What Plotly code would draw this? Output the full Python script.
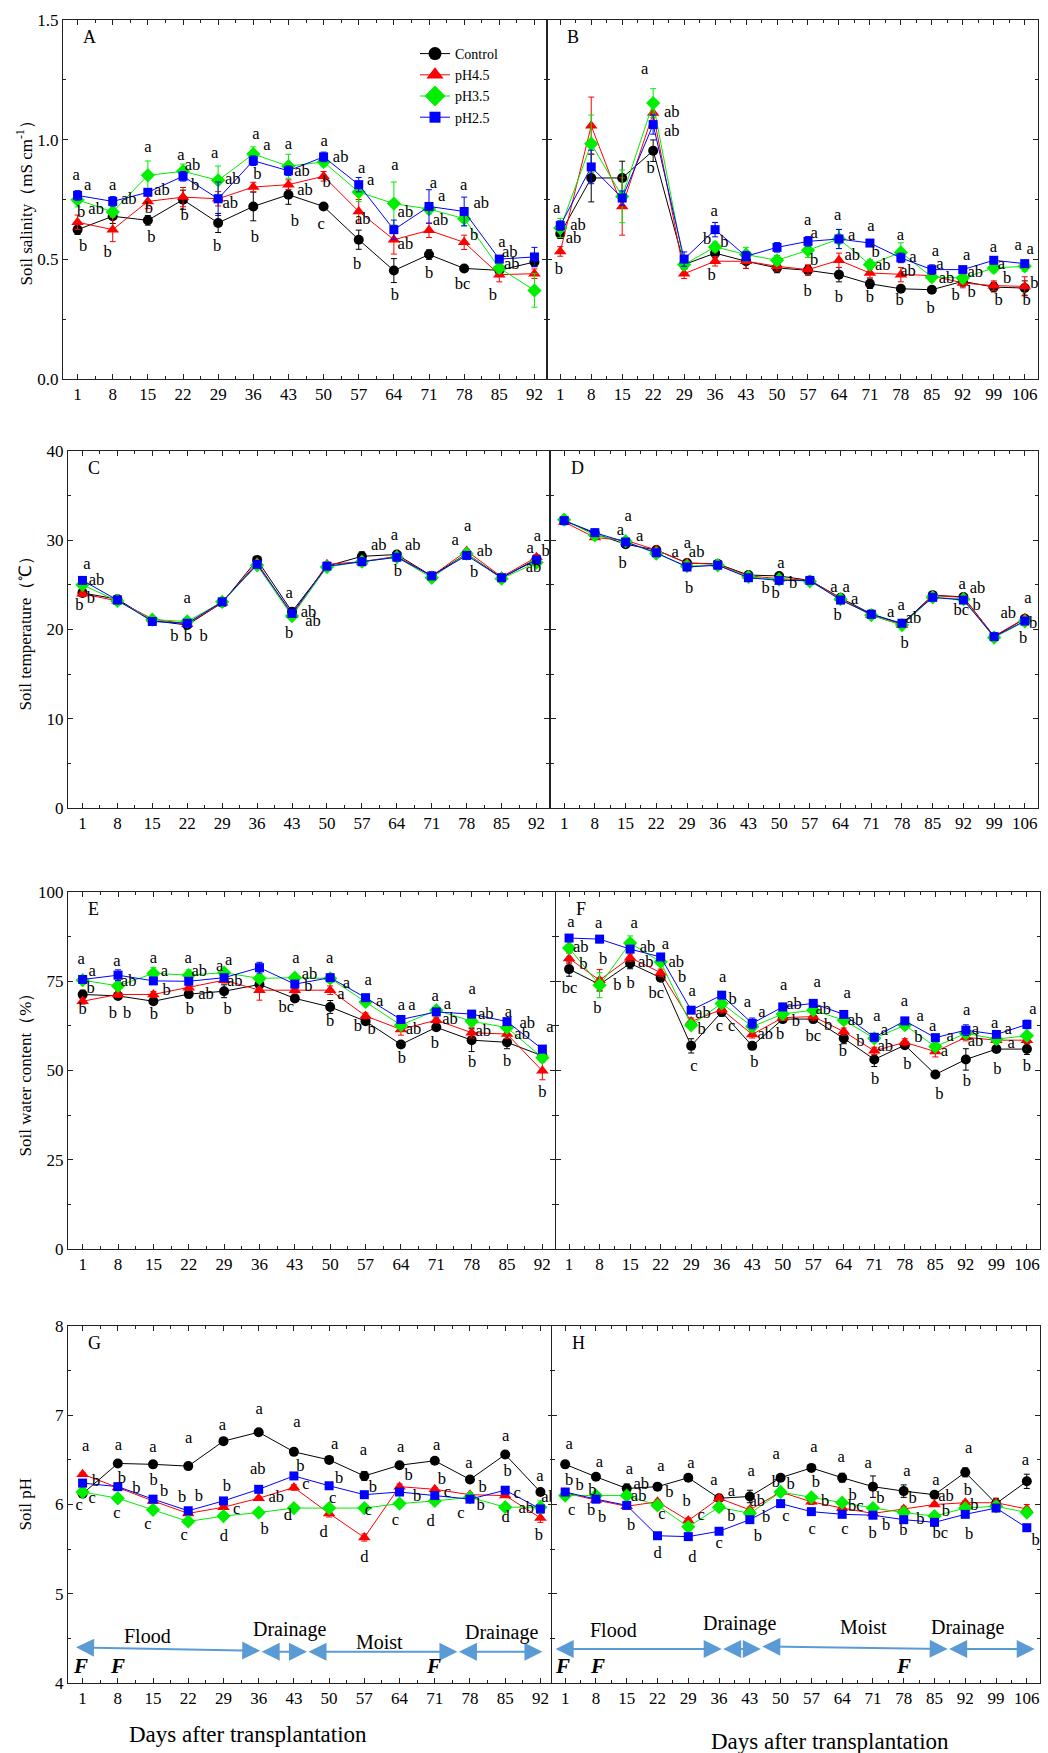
import plotly.graph_objects as go

W, H = 1048, 1753
FONT = "Liberation Serif"

days_L = [1, 8, 15, 22, 29, 36, 43, 50, 57, 64, 71, 78, 85, 92]
days_R = [1, 8, 15, 22, 29, 36, 43, 50, 57, 64, 71, 78, 85, 92, 99, 106]
series_names = ["Control", "pH4.5", "pH3.5", "pH2.5"]

# ---------------- Panel A: soil salinity (mS cm-1), period 1 ----------------
A_ctrl = [0.624, 0.68, 0.663, 0.749, 0.652, 0.721, 0.77, 0.721, 0.582, 0.453, 0.52, 0.462, 0.454, 0.489]
A_ph45 = [0.655, 0.624, 0.742, 0.76, 0.753, 0.802, 0.812, 0.847, 0.70, 0.582, 0.621, 0.571, 0.436, 0.44]
A_ph35 = [0.749, 0.698, 0.851, 0.868, 0.83, 0.94, 0.889, 0.907, 0.781, 0.733, 0.71, 0.67, 0.464, 0.37]
A_ph25 = [0.767, 0.742, 0.78, 0.847, 0.753, 0.912, 0.87, 0.928, 0.812, 0.624, 0.721, 0.70, 0.501, 0.51]
A_err_ctrl = [0.02, 0.03, 0.02, 0.04, 0.04, 0.06, 0.04, 0.01, 0.04, 0.05, 0.02, 0.01, 0.01, 0.02]
A_err_ph45 = [0.03, 0.05, 0.03, 0.04, 0.03, 0.02, 0.02, 0.02, 0.05, 0.06, 0.03, 0.03, 0.03, 0.02]
A_err_ph35 = [0.03, 0.02, 0.06, 0.03, 0.06, 0.03, 0.05, 0.02, 0.04, 0.09, 0.02, 0.03, 0.02, 0.07]
A_err_ph25 = [0.02, 0.02, 0.01, 0.02, 0.07, 0.02, 0.02, 0.02, 0.03, 0.04, 0.07, 0.06, 0.01, 0.04]
A_letters = [
    (0.7, 0.847, "a"), (3, 0.805, "a"), (1.7, 0.694, "b"), (4.7, 0.705, "ab"), (2.1, 0.554, "b"),
    (8, 0.805, "a"), (11.2, 0.749, "ab"), (7, 0.526, "b"),
    (15, 0.965, "a"), (17.8, 0.784, "ab"), (15.2, 0.71, "b"), (15.7, 0.589, "b"),
    (21.6, 0.933, "a"), (23.9, 0.889, "ab"), (24.4, 0.805, "b"), (22.3, 0.682, "b"),
    (28.3, 0.941, "a"), (31.9, 0.83, "ab"), (31.4, 0.733, "ab"), (28.8, 0.552, "b"),
    (36.5, 1.021, "a"), (38.7, 0.972, "a"), (36.8, 0.854, "b"), (36.3, 0.589, "b"),
    (43, 0.979, "a"), (45.7, 0.865, "ab"), (46.3, 0.784, "ab"), (44.3, 0.656, "b"),
    (50.1, 0.99, "a"), (53.4, 0.923, "ab"), (50.6, 0.819, "b"), (49.5, 0.645, "c"),
    (57.6, 0.879, "a"), (59.4, 0.829, "a"), (57.8, 0.666, "ab"), (56.7, 0.475, "b"),
    (64.2, 0.889, "a"), (66.3, 0.694, "ab"), (66.3, 0.559, "ab"), (64.2, 0.348, "b"),
    (71.9, 0.815, "a"), (73.5, 0.763, "a"), (73.3, 0.659, "ab"), (71, 0.439, "b"),
    (77.9, 0.805, "a"), (81.4, 0.733, "ab"), (80, 0.6, "b"), (77.7, 0.394, "bc"),
    (85.5, 0.568, "a"), (87.1, 0.526, "ab"), (87.5, 0.475, "ab"), (83.7, 0.348, "b"),
]

# ---------------- Panel B: soil salinity, period 2 ----------------
B_ctrl = [0.607, 0.84, 0.84, 0.954, 0.478, 0.526, 0.492, 0.464, 0.454, 0.436, 0.398, 0.377, 0.373, 0.408, 0.384, 0.38]
B_ph45 = [0.533, 1.058, 0.721, 1.111, 0.44, 0.492, 0.492, 0.471, 0.457, 0.496, 0.443, 0.436, 0.432, 0.401, 0.39, 0.387]
B_ph35 = [0.631, 0.983, 0.763, 1.153, 0.478, 0.552, 0.52, 0.496, 0.538, 0.585, 0.478, 0.529, 0.426, 0.422, 0.464, 0.471]
B_ph25 = [0.641, 0.886, 0.756, 1.063, 0.501, 0.624, 0.513, 0.55, 0.575, 0.585, 0.568, 0.506, 0.457, 0.457, 0.496, 0.482]
B_err_ctrl = [0.02, 0.10, 0.07, 0.045, 0.02, 0.02, 0.03, 0.02, 0.02, 0.03, 0.02, 0.01, 0.01, 0.02, 0.02, 0.03]
B_err_ph45 = [0.02, 0.12, 0.12, 0.05, 0.02, 0.02, 0.03, 0.02, 0.02, 0.03, 0.02, 0.03, 0.02, 0.02, 0.02, 0.04]
B_err_ph35 = [0.04, 0.12, 0.11, 0.06, 0.02, 0.02, 0.03, 0.02, 0.03, 0.04, 0.02, 0.04, 0.02, 0.02, 0.02, 0.02]
B_err_ph25 = [0.02, 0.07, 0.03, 0.04, 0.03, 0.03, 0.02, 0.02, 0.02, 0.04, 0.01, 0.02, 0.02, 0.01, 0.01, 0.01]
B_letters = [
    (0.2, 0.712, "a"), (5, 0.638, "ab"), (4, 0.585, "ab"), (0.7, 0.454, "b"),
    (20.1, 1.292, "a"), (26.2, 1.111, "ab"), (26.2, 1.032, "ab"), (21.4, 0.879, "b"),
    (35.8, 0.70, "a"), (34.2, 0.582, "b"), (38.1, 0.568, "b"), (35.2, 0.429, "b"),
    (56.9, 0.659, "a"), (58.4, 0.607, "a"), (58.4, 0.492, "b"), (56.9, 0.364, "b"),
    (63.7, 0.68, "a"), (66.9, 0.60, "a"), (67, 0.513, "ab"), (64, 0.341, "b"),
    (71.2, 0.634, "a"), (72.3, 0.526, "b"), (73.9, 0.474, "ab"), (71, 0.341, "b"),
    (77.9, 0.60, "a"), (80.7, 0.508, "a"), (79.6, 0.447, "ab"), (77.7, 0.327, "b"),
    (85.8, 0.533, "a"), (86.8, 0.475, "a"), (88.3, 0.419, "ab"), (84.7, 0.294, "b"),
    (92.9, 0.515, "a"), (94.8, 0.443, "ab"), (94, 0.359, "b"), (90.4, 0.348, "b"),
    (98.9, 0.547, "a"), (100.7, 0.475, "a"), (102, 0.419, "b"), (100.1, 0.327, "b"),
    (104.5, 0.557, "a"), (107.2, 0.54, "a"), (108.2, 0.397, "b"), (106.4, 0.327, "b"),
]

# ---------------- Panel C: soil temperature, period 1 ----------------
C_ctrl = [24.1, 23.4, 21.0, 20.5, 23.0, 27.8, 22.0, 27.1, 28.2, 28.4, 26.0, 28.5, 25.8, 27.9]
C_ph45 = [24.0, 23.2, 21.2, 20.6, 23.0, 27.5, 21.6, 27.3, 27.6, 28.2, 26.0, 28.8, 25.9, 28.1]
C_ph35 = [25.0, 23.2, 21.1, 20.9, 23.1, 27.2, 21.5, 27.0, 27.6, 28.1, 25.8, 28.5, 25.7, 27.5]
C_ph25 = [25.5, 23.3, 20.9, 20.7, 23.1, 27.3, 21.8, 27.1, 27.6, 28.1, 26.0, 28.3, 25.8, 27.8]
C_err_ctrl = [0.3, 0.2, 0.2, 0.2, 0.2, 0.2, 0.2, 0.2, 0.5, 0.2, 0.2, 0.2, 0.2, 0.2]
C_err_ph45 = [0.3, 0.2, 0.2, 0.2, 0.2, 0.2, 0.2, 0.2, 0.2, 0.2, 0.2, 0.2, 0.2, 0.3]
C_err_ph35 = [0.3, 0.2, 0.2, 0.2, 0.2, 0.2, 0.2, 0.2, 0.2, 0.2, 0.2, 0.2, 0.2, 0.3]
C_err_ph25 = [0.3, 0.2, 0.2, 0.2, 0.2, 0.2, 0.2, 0.2, 0.2, 0.2, 0.2, 0.2, 0.2, 0.2]
C_letters = [
    (1.9, 27.2, "a"), (3.8, 25.4, "ab"), (0.4, 22.6, "b"), (2.7, 23.4, "b"),
    (22, 23.4, "a"), (19.4, 19.2, "b"), (22.1, 19.2, "b"), (25.3, 19.2, "b"),
    (42.4, 24.0, "a"), (46.3, 21.9, "ab"), (47.2, 20.8, "ab"), (42.4, 19.5, "b"),
    (60.4, 29.4, "ab"), (63.5, 30.5, "a"), (67.2, 29.4, "ab"), (64.2, 26.5, "b"),
    (78.2, 31.5, "a"), (75.7, 29.9, "a"), (81.6, 28.7, "ab"), (79.5, 26.4, "b"),
    (92.2, 30.4, "a"), (90.7, 29.0, "a"), (93.8, 28.7, "b"), (91.4, 26.9, "ab"),
]

# ---------------- Panel D: soil temperature, period 2 ----------------
D_ctrl = [32.2, 30.75, 29.55, 28.9, 27.45, 27.35, 26.1, 26.0, 25.5, 23.55, 21.75, 20.6, 23.85, 23.65, 19.2, 21.2]
D_ph45 = [32.05, 30.3, 30.0, 28.9, 27.45, 27.3, 26.0, 25.7, 25.5, 23.5, 21.6, 20.5, 23.8, 23.6, 19.25, 21.25]
D_ph35 = [32.3, 30.55, 29.9, 28.5, 27.1, 27.2, 25.9, 25.6, 25.4, 23.4, 21.6, 20.5, 23.6, 23.4, 19.1, 20.9]
D_ph25 = [32.2, 30.85, 29.8, 28.6, 27.0, 27.2, 25.8, 25.5, 25.5, 23.3, 21.7, 20.7, 23.6, 23.3, 19.2, 20.95]
D_err = [0.2] * 16
D_letters = [
    (15.6, 32.6, "a"), (13.8, 31.0, "a"), (18.2, 30.4, "a"), (14.3, 27.4, "b"),
    (26.3, 28.6, "a"), (29.1, 29.55, "a"), (31.2, 28.6, "ab"), (29.5, 24.6, "b"),
    (50.4, 27.3, "a"), (46.9, 24.6, "b"), (49.2, 24.0, "b"), (53.2, 25.15, "b"),
    (62.5, 24.7, "a"), (65.3, 24.7, "a"), (67.2, 23.3, "a"), (63.3, 21.5, "b"),
    (75.4, 21.9, "a"), (77.8, 22.6, "a"), (80.6, 21.2, "ab"), (78.6, 18.4, "b"),
    (91.7, 25.0, "a"), (95.2, 24.5, "ab"), (95, 22.65, "b"), (91.5, 22.1, "bc"),
    (102.2, 21.8, "ab"), (106.7, 23.4, "a"), (107.9, 20.6, "b"), (105.6, 18.9, "b"),
]

# ---------------- Panel E: soil water content (%), period 1 ----------------
E_ctrl = [71.3, 70.9, 69.4, 71.4, 72.2, 74.1, 70.2, 67.8, 63.8, 57.3, 62.1, 58.5, 57.9, 54.1]
E_ph45 = [69.4, 71.3, 71.3, 73.2, 75.3, 72.5, 72.5, 72.5, 65.3, 61.5, 64.1, 60.6, 60.2, 49.9]
E_ph35 = [75.3, 73.7, 77.2, 76.7, 77.4, 75.8, 76.0, 75.8, 69.2, 62.7, 66.9, 63.8, 62.0, 53.6]
E_ph25 = [75.5, 76.7, 75.1, 75.0, 76.0, 78.8, 74.2, 76.0, 70.4, 64.3, 66.4, 65.8, 63.7, 56.0]
E_err_ctrl = [1.2, 1.0, 0.8, 1.0, 1.8, 1.0, 0.6, 1.8, 0.8, 0.6, 0.6, 3.2, 1.8, 0.8]
E_err_ph45 = [0.8, 0.8, 0.8, 0.8, 0.8, 2.8, 0.8, 1.2, 0.8, 1.6, 0.8, 1.5, 1.2, 2.5]
E_err_ph35 = [0.8, 1.2, 1.6, 1.5, 0.8, 1.0, 0.8, 1.2, 0.8, 0.8, 0.6, 1.2, 0.8, 1.0]
E_err_ph25 = [0.6, 1.5, 0.6, 0.6, 0.6, 1.5, 0.6, 0.6, 0.8, 1.0, 0.8, 0.8, 0.6, 1.0]
E_letters = [
    (0.7, 81.1, "a"), (2.9, 77.6, "a"), (2.6, 73.0, "b"), (1, 66.9, "b"),
    (7.8, 80.4, "a"), (10.1, 74.7, "ab"), (7, 66.0, "b"), (9.8, 66.0, "b"),
    (15, 81.4, "a"), (17.2, 77.6, "a"), (17.6, 72.2, "b"), (15.1, 65.7, "b"),
    (21.9, 81.4, "a"), (24.1, 77.6, "ab"), (25.4, 71.3, "ab"), (22.2, 66.9, "b"),
    (28.1, 79.0, "a"), (29.9, 80.6, "a"), (31.1, 74.7, "ab"), (29.7, 66.9, "b"),
    (43.2, 81.2, "a"), (45.9, 76.9, "ab"), (45.7, 73.4, "b"), (41.3, 67.6, "bc"),
    (49.9, 81.4, "a"), (53.2, 74.4, "a"), (52.1, 71.1, "a"), (50, 63.7, "b"),
    (57.5, 75.0, "a"), (59.8, 69.2, "a"), (55.5, 62.3, "b"), (58.2, 61.3, "b"),
    (64.1, 68.0, "a"), (66.2, 68.0, "a"), (66.5, 61.3, "ab"), (64.2, 53.2, "b"),
    (70.8, 70.6, "a"), (73.2, 68.3, "a"), (73.7, 64.3, "ab"), (70.7, 57.4, "b"),
    (78.1, 72.7, "a"), (80.8, 65.7, "ab"), (80.3, 60.7, "ab"), (78.1, 52.2, "b"),
    (85.3, 66.2, "a"), (89, 63.2, "ab"), (88, 59.9, "ab"), (85, 52.5, "b"),
    (93.5, 62.0, "a"), (95.1, 59.2, "ab"), (95.1, 55.0, "ab"), (92, 43.8, "b"),
]

# ---------------- Panel F: soil water content, period 2 ----------------
F_ctrl = [78.4, 74.1, 80.0, 76.0, 56.9, 66.4, 56.9, 64.4, 64.4, 59.0, 53.1, 57.1, 48.9, 53.1, 56.0, 56.0]
F_ph45 = [81.4, 75.3, 81.6, 77.4, 63.7, 67.1, 60.1, 64.8, 65.1, 60.9, 55.5, 57.9, 55.3, 59.3, 58.5, 58.5]
F_ph35 = [84.3, 73.9, 85.7, 80.4, 62.7, 68.8, 62.3, 65.8, 66.9, 64.1, 59.0, 62.7, 56.7, 60.4, 58.8, 59.7]
F_ph25 = [87.1, 86.8, 84.0, 81.8, 66.9, 71.1, 63.2, 67.8, 68.8, 65.7, 59.3, 63.9, 59.2, 61.3, 60.1, 62.9]
F_err_ctrl = [2.0, 1.8, 1.5, 0.8, 2.0, 1.2, 0.8, 0.8, 1.0, 1.5, 2.0, 0.8, 0.6, 3.0, 0.8, 1.5]
F_err_ph45 = [1.5, 3.0, 1.0, 1.0, 1.0, 1.0, 1.0, 0.8, 1.0, 1.0, 1.0, 1.0, 1.5, 1.0, 0.8, 1.0]
F_err_ph35 = [1.0, 3.5, 2.0, 1.0, 1.0, 1.0, 1.5, 0.8, 1.0, 1.0, 1.0, 1.0, 1.0, 1.0, 0.8, 1.0]
F_err_ph25 = [0.5, 1.0, 0.5, 0.5, 0.5, 0.5, 1.5, 1.0, 0.8, 0.8, 1.0, 0.8, 0.5, 1.5, 0.5, 1.2]
F_letters = [
    (1.4, 91.3, "a"), (3.7, 84.4, "ab"), (4.3, 79.5, "b"), (1.1, 73.0, "bc"),
    (7.8, 91.1, "a"), (8.8, 80.9, "b"), (12.1, 73.6, "b"), (7.5, 67.4, "b"),
    (15.9, 91.1, "a"), (19, 84.4, "ab"), (18.6, 80.1, "ab"), (15.1, 74.4, "b"),
    (23.1, 85.1, "a"), (25.6, 80.2, "ab"), (26.9, 76.0, "b"), (21, 71.6, "bc"),
    (29.2, 72.0, "a"), (31.7, 66.0, "ab"), (31.4, 61.5, "b"), (29.6, 50.9, "c"),
    (36.2, 76.0, "a"), (38.5, 69.9, "b"), (35.5, 62.3, "c"), (38.3, 62.3, "c"),
    (41.9, 69.0, "a"), (45.2, 66.2, "a"), (46, 59.9, "ab"), (43.5, 52.0, "b"),
    (50.2, 73.7, "a"), (52.6, 68.3, "ab"), (53, 63.7, "b"), (49.4, 59.9, "b"),
    (57.9, 74.6, "a"), (59.3, 67.1, "ab"), (60.4, 62.4, "b"), (57, 59.5, "bc"),
    (64.8, 71.6, "a"), (66.7, 63.8, "ab"), (67.8, 57.9, "b"), (63.8, 55.3, "b"),
    (71.6, 64.9, "a"), (73.3, 61.1, "a"), (73.5, 56.7, "ab"), (71.2, 47.5, "b"),
    (77.9, 69.2, "a"), (81.5, 65.1, "a"), (81.1, 59.2, "b"), (78.6, 51.5, "b"),
    (84.4, 62.3, "a"), (88.4, 59.5, "a"), (87.1, 55.3, "a"), (85.9, 43.1, "b"),
    (92.2, 66.7, "a"), (94.2, 61.3, "a"), (94.2, 58.1, "ab"), (92.2, 46.9, "b"),
    (98.6, 63.0, "a"), (101.7, 61.3, "a"), (102.4, 57.4, "a"), (99.2, 50.1, "b"),
    (107.4, 67.1, "a"), (109.2, 62.9, "ab"), (109.2, 59.0, "ab"), (106, 50.9, "b"),
]

# ---------------- Panel G: soil pH, period 1 ----------------
G_ctrl = [6.12, 6.46, 6.45, 6.43, 6.71, 6.81, 6.59, 6.50, 6.32, 6.44, 6.49, 6.28, 6.56, 6.14]
G_ph45 = [6.34, 6.19, 6.04, 5.90, 5.97, 6.07, 6.19, 5.90, 5.63, 6.20, 6.17, 6.11, 6.10, 5.85]
G_ph35 = [6.14, 6.07, 5.94, 5.81, 5.87, 5.91, 5.96, 5.96, 5.96, 6.01, 6.04, 6.08, 5.97, 5.97]
G_ph25 = [6.24, 6.20, 6.06, 5.93, 6.04, 6.17, 6.32, 6.21, 6.11, 6.14, 6.10, 6.06, 6.16, 5.95]
G_err_ctrl = [0.03, 0.02, 0.02, 0.02, 0.02, 0.02, 0.02, 0.02, 0.05, 0.02, 0.02, 0.02, 0.02, 0.03]
G_err_ph45 = [0.02, 0.03, 0.02, 0.02, 0.02, 0.02, 0.03, 0.04, 0.04, 0.03, 0.02, 0.02, 0.02, 0.05]
G_err_ph35 = [0.02, 0.02, 0.02, 0.02, 0.02, 0.02, 0.02, 0.02, 0.02, 0.02, 0.02, 0.02, 0.02, 0.07]
G_err_ph25 = [0.02] * 14
G_letters = [
    (1.6, 6.65, "a"), (3.7, 6.25, "b"), (2.9, 6.06, "c"), (0.3, 5.99, "c"),
    (8.1, 6.66, "a"), (8.8, 6.29, "b"), (11.7, 6.17, "b"), (7.8, 5.89, "c"),
    (15, 6.63, "a"), (15.1, 6.27, "b"), (17.2, 6.14, "b"), (14, 5.77, "c"),
    (22.1, 6.74, "a"), (20.8, 6.07, "b"), (24.1, 6.08, "b"), (21.2, 5.65, "c"),
    (28.8, 6.88, "a"), (29.7, 6.20, "b"), (31.6, 5.94, "c"), (29.1, 5.64, "d"),
    (36.1, 7.06, "a"), (35.8, 6.39, "ab"), (39.5, 6.07, "ab"), (37.2, 5.72, "b"),
    (43.6, 6.91, "a"), (44.3, 6.42, "b"), (45.4, 6.22, "c"), (41.8, 5.87, "d"),
    (51.1, 6.67, "a"), (52, 6.29, "b"), (50.7, 6.06, "c"), (48.9, 5.68, "d"),
    (56.8, 6.60, "a"), (58.7, 6.19, "b"), (57.8, 5.93, "c"), (57, 5.40, "d"),
    (64.2, 6.63, "a"), (65.8, 6.32, "b"), (67.5, 6.08, "b"), (63.2, 5.82, "c"),
    (71.4, 6.66, "a"), (72.4, 6.28, "b"), (73.5, 6.13, "c"), (70.2, 5.80, "d"),
    (77.8, 6.45, "a"), (80.5, 6.19, "b"), (80.1, 5.99, "b"), (76.2, 5.89, "c"),
    (85.1, 6.76, "a"), (85.5, 6.36, "b"), (87.4, 6.12, "c"), (85.1, 5.85, "d"),
    (89.2, 5.95, "ab"), (91.9, 6.31, "a"), (93.7, 6.07, "ab"), (91.7, 5.65, "b"),
]

# ---------------- Panel H: soil pH, period 2 ----------------
H_ctrl = [6.45, 6.31, 6.18, 6.20, 6.30, 6.07, 6.09, 6.30, 6.41, 6.30, 6.20, 6.15, 6.11, 6.36, 6.01, 6.26]
H_ph45 = [6.13, 6.05, 5.98, 6.03, 5.82, 6.07, 5.94, 6.14, 6.03, 5.96, 5.90, 5.95, 6.00, 6.02, 6.02, 5.95]
H_ph35 = [6.10, 6.10, 6.10, 5.99, 5.75, 5.97, 5.90, 6.14, 6.08, 6.02, 5.96, 5.91, 5.87, 5.96, 5.98, 5.91]
H_ph25 = [6.14, 6.06, 5.99, 5.65, 5.64, 5.70, 5.83, 6.01, 5.92, 5.89, 5.88, 5.83, 5.80, 5.89, 5.96, 5.74]
H_err_ctrl = [0.02, 0.02, 0.05, 0.03, 0.02, 0.03, 0.07, 0.03, 0.02, 0.05, 0.12, 0.07, 0.03, 0.05, 0.06, 0.08]
H_err_ph45 = [0.03, 0.03, 0.03, 0.02, 0.03, 0.03, 0.03, 0.02, 0.03, 0.03, 0.03, 0.03, 0.02, 0.02, 0.02, 0.05]
H_err_ph35 = [0.02] * 16
H_err_ph25 = [0.02] * 16
H_letters = [
    (1.9, 6.67, "a"), (1.9, 6.27, "b"), (4.3, 6.21, "b"), (2.5, 5.93, "c"),
    (8.8, 6.47, "a"), (7.2, 6.15, "b"), (6.9, 5.93, "b"), (9.4, 5.85, "b"),
    (15.6, 6.39, "a"), (18.3, 6.22, "ab"), (17.7, 6.09, "ab"), (16, 5.76, "b"),
    (22.8, 6.42, "a"), (24.7, 6.13, "b"), (23, 5.88, "c"), (22, 5.45, "d"),
    (29.6, 6.46, "a"), (28.6, 6.03, "b"), (31.9, 5.87, "c"), (29.9, 5.40, "d"),
    (34.8, 6.27, "a"), (38.8, 6.14, "a"), (38.8, 5.86, "b"), (36, 5.56, "c"),
    (43.3, 6.36, "a"), (44.7, 6.03, "ab"), (46.7, 5.85, "b"), (44.8, 5.64, "b"),
    (49, 6.56, "a"), (48.9, 6.24, "b"), (52.3, 6.22, "b"), (51.2, 5.86, "c"),
    (57.6, 6.64, "a"), (58, 6.24, "b"), (60.1, 6.03, "b"), (57.2, 5.72, "c"),
    (63.8, 6.52, "a"), (66.4, 6.10, "b"), (67.1, 5.97, "bc"), (64.6, 5.72, "c"),
    (69.9, 6.46, "a"), (72.7, 6.06, "b"), (74, 5.76, "b"), (70.9, 5.67, "b"),
    (78.7, 6.36, "a"), (80.0, 6.06, "b"), (81.8, 5.83, "b"), (77.9, 5.70, "b"),
    (85.3, 6.27, "a"), (87.6, 6.08, "ab"), (87.6, 5.92, "b"), (86.3, 5.67, "bc"),
    (92.8, 6.62, "a"), (92.6, 6.15, "b"), (94.1, 5.99, "b"), (92.9, 5.66, "b"),
    (105.7, 6.49, "a"), (109.7, 6.04, "b"), (109.7, 5.88, "b"), (108, 5.59, "b"),
]

# Water-management phases drawn in panels G and H
G_phase_bounds = [-0.6, 36.3, 45.6, 75.5, 92.4]
G_phase_y = [(4.40, 4.36), (4.35, 4.35), (4.35, 4.35), (4.35, 4.35)]
G_phase_labels = [(14, 4.53, "Flood"), (42.2, 4.60, "Drainage"), (60, 4.46, "Moist"), (84.2, 4.57, "Drainage")]
G_flood_marks = [0.5, 8, 70.7]
H_phase_bounds = [-1.5, 36.6, 45.5, 88.0, 107.8]
H_phase_y = [(4.38, 4.38), (4.38, 4.38), (4.41, 4.38), (4.38, 4.38)]
H_phase_labels = [(12, 4.59, "Flood"), (40.7, 4.67, "Drainage"), (68.8, 4.63, "Moist"), (92.4, 4.62, "Drainage")]
H_flood_marks = [0.5, 8.4, 78]

# ---------------- figure construction ----------------
colors = ["#000000", "#FF0000", "#00EE00", "#0000FF"]
symbols = ["circle", "triangle-up", "diamond", "square"]
msizes = [10, 11, 11, 9]
legend_sizes = [13, 15, 16, 11]

panels = [
    dict(lab="A", days=days_L, vals=[A_ctrl, A_ph45, A_ph35, A_ph25], errs=[A_err_ctrl, A_err_ph45, A_err_ph35, A_err_ph25], letters=A_letters),
    dict(lab="B", days=days_R, vals=[B_ctrl, B_ph45, B_ph35, B_ph25], errs=[B_err_ctrl, B_err_ph45, B_err_ph35, B_err_ph25], letters=B_letters),
    dict(lab="C", days=days_L, vals=[C_ctrl, C_ph45, C_ph35, C_ph25], errs=[C_err_ctrl, C_err_ph45, C_err_ph35, C_err_ph25], letters=C_letters),
    dict(lab="D", days=days_R, vals=[D_ctrl, D_ph45, D_ph35, D_ph25], errs=[D_err, D_err, D_err, D_err], letters=D_letters),
    dict(lab="E", days=days_L, vals=[E_ctrl, E_ph45, E_ph35, E_ph25], errs=[E_err_ctrl, E_err_ph45, E_err_ph35, E_err_ph25], letters=E_letters),
    dict(lab="F", days=days_R, vals=[F_ctrl, F_ph45, F_ph35, F_ph25], errs=[F_err_ctrl, F_err_ph45, F_err_ph35, F_err_ph25], letters=F_letters),
    dict(lab="G", days=days_L, vals=[G_ctrl, G_ph45, G_ph35, G_ph25], errs=[G_err_ctrl, G_err_ph45, G_err_ph35, G_err_ph25], letters=G_letters),
    dict(lab="H", days=days_R, vals=[H_ctrl, H_ph45, H_ph35, H_ph25], errs=[H_err_ctrl, H_err_ph45, H_err_ph35, H_err_ph25], letters=H_letters),
]

row_px = [(20, 379), (451, 808), (892, 1249), (1326, 1683)]
col_px = [[(63, 547), (547, 1038)], [(68, 549), (551, 1038)], [(68, 555), (556, 1040)], [(68, 553), (552, 1040)]]
y_specs = [
    dict(range=[0, 1.5], dtick=0.5, minor=0.25, fmt=".1f", title="Soil salinity（mS cm<sup>-1</sup>）"),
    dict(range=[0, 40], dtick=10, minor=5, fmt="d", title="Soil temperature（℃）"),
    dict(range=[0, 100], dtick=25, minor=12.5, fmt="d", title="Soil water content（%）"),
    dict(range=[4, 8], dtick=1, minor=0.5, fmt="d", title="Soil pH"),
]
x_ranges = [[-1.9, 94.5], [-2.0, 109.0]]

fig = go.Figure()
layout = {}
annotations = []

for i, p in enumerate(panels):
    n = i + 1
    r, c = divmod(i, 2)
    xs, ys = f"x{n}", f"y{n}"
    for k in range(4):
        fig.add_trace(go.Scatter(
            x=p["days"], y=p["vals"][k], name=series_names[k], mode="lines+markers",
            line=dict(color=colors[k], width=1),
            marker=dict(symbol=symbols[k], size=msizes[k], color=colors[k]),
            error_y=dict(type="data", array=p["errs"][k], color=colors[k], thickness=1, width=3),
            xaxis=xs, yaxis=ys, showlegend=False, hoverinfo="skip",
        ))
    fig.add_trace(go.Scatter(
        x=[t[0] for t in p["letters"]], y=[t[1] for t in p["letters"]], text=[t[2] for t in p["letters"]],
        mode="text", textposition="middle center", textfont=dict(family=FONT, size=16.5, color="black"),
        cliponaxis=False, showlegend=False, hoverinfo="skip", xaxis=xs, yaxis=ys,
    ))

    x0, x1 = col_px[r][c]
    y0, y1 = row_px[r]
    ys_spec = y_specs[r]
    days = p["days"]
    axis_common = dict(showline=True, linecolor="#222222", linewidth=1, mirror="allticks", ticks="inside",
                       ticklen=5, tickwidth=1, tickcolor="#222222", showgrid=False, zeroline=False,
                       automargin=False, ticklabeloverflow="allow",
                       tickfont=dict(family=FONT, size=17, color="black"))
    layout["xaxis" if n == 1 else f"xaxis{n}"] = dict(
        axis_common, domain=[x0 / W, x1 / W], anchor=ys, range=x_ranges[c],
        tickmode="array", tickvals=days, ticktext=[str(d) for d in days],
        minor=dict(ticks="inside", ticklen=3, tickcolor="#222222", tick0=4.5, dtick=7, showgrid=False),
    )
    layout["yaxis" if n == 1 else f"yaxis{n}"] = dict(
        axis_common, domain=[1 - y1 / H, 1 - y0 / H], anchor=xs, range=ys_spec["range"],
        tickmode="linear", tick0=ys_spec["range"][0], dtick=ys_spec["dtick"], tickformat=ys_spec["fmt"],
        showticklabels=(c == 0),
        minor=dict(ticks="inside", ticklen=3, tickcolor="#222222", dtick=ys_spec["minor"], showgrid=False),
    )
    annotations.append(dict(xref="paper", yref="paper", x=(x0 + 18) / W, y=1 - (y0 + 5) / H,
                            xanchor="left", yanchor="top", text=p["lab"], showarrow=False,
                            font=dict(family=FONT, size=18, color="black")))
    if c == 0:
        annotations.append(dict(xref="paper", yref="paper", x=25 / W, y=1 - (y0 + y1) / 2 / H,
                                text=ys_spec["title"], textangle=-90, showarrow=False,
                                xanchor="center", yanchor="middle",
                                font=dict(family=FONT, size=17, color="black")))

# legend entries (legend-only traces with larger symbols, as in the reference legend)
for k in range(4):
    fig.add_trace(go.Scatter(
        x=[None], y=[None], name=series_names[k], mode="lines+markers",
        line=dict(color=colors[k], width=1),
        marker=dict(symbol=symbols[k], size=legend_sizes[k], color=colors[k]),
        xaxis="x1", yaxis="y1", showlegend=True, hoverinfo="skip",
    ))

# phases in G (panel 7) and H (panel 8)
for n, bounds, yy, labels, fmarks in [(7, G_phase_bounds, G_phase_y, G_phase_labels, G_flood_marks),
                                      (8, H_phase_bounds, H_phase_y, H_phase_labels, H_flood_marks)]:
    for s in range(len(bounds) - 1):
        annotations.append(dict(
            xref=f"x{n}", yref=f"y{n}", axref=f"x{n}", ayref=f"y{n}",
            x=bounds[s + 1], y=yy[s][1], ax=bounds[s], ay=yy[s][0], text="",
            showarrow=True, arrowhead=2, startarrowhead=2, arrowside="end+start",
            arrowsize=1.8, startarrowsize=1.8, arrowwidth=2, arrowcolor="#5B9BD5",
        ))
    for (xd, yd, t) in labels:
        annotations.append(dict(xref=f"x{n}", yref=f"y{n}", x=xd, y=yd, text=t, showarrow=False,
                                xanchor="center", yanchor="middle",
                                font=dict(family=FONT, size=20, color="black")))
    for xd in fmarks:
        annotations.append(dict(xref=f"x{n}", yref=f"y{n}", x=xd, y=4.19, text="<b><i>F</i></b>",
                                showarrow=False, xanchor="center", yanchor="middle",
                                font=dict(family=FONT, size=21, color="black")))

annotations.append(dict(xref="paper", yref="paper", x=248 / W, y=1 - 1734 / H, text="Days after transplantation",
                        showarrow=False, xanchor="center", yanchor="middle",
                        font=dict(family=FONT, size=23, color="black")))
annotations.append(dict(xref="paper", yref="paper", x=830 / W, y=1 - 1741 / H, text="Days after transplantation",
                        showarrow=False, xanchor="center", yanchor="middle",
                        font=dict(family=FONT, size=23, color="black")))

fig.update_layout(
    width=W, height=H, margin=dict(l=0, r=0, t=0, b=0, autoexpand=False),
    paper_bgcolor="white", plot_bgcolor="white",
    font=dict(family=FONT, color="black"),
    legend=dict(x=415 / W, y=1 - 38 / H, xanchor="left", yanchor="top", bgcolor="rgba(0,0,0,0)",
                font=dict(family=FONT, size=14, color="black"), tracegroupgap=0, itemwidth=30),
    annotations=annotations,
    **layout,
)

fig.write_html("out.html", config={"displayModeBar": False},
               post_script="document.body.style.margin='0px'; document.body.style.padding='0px';")
